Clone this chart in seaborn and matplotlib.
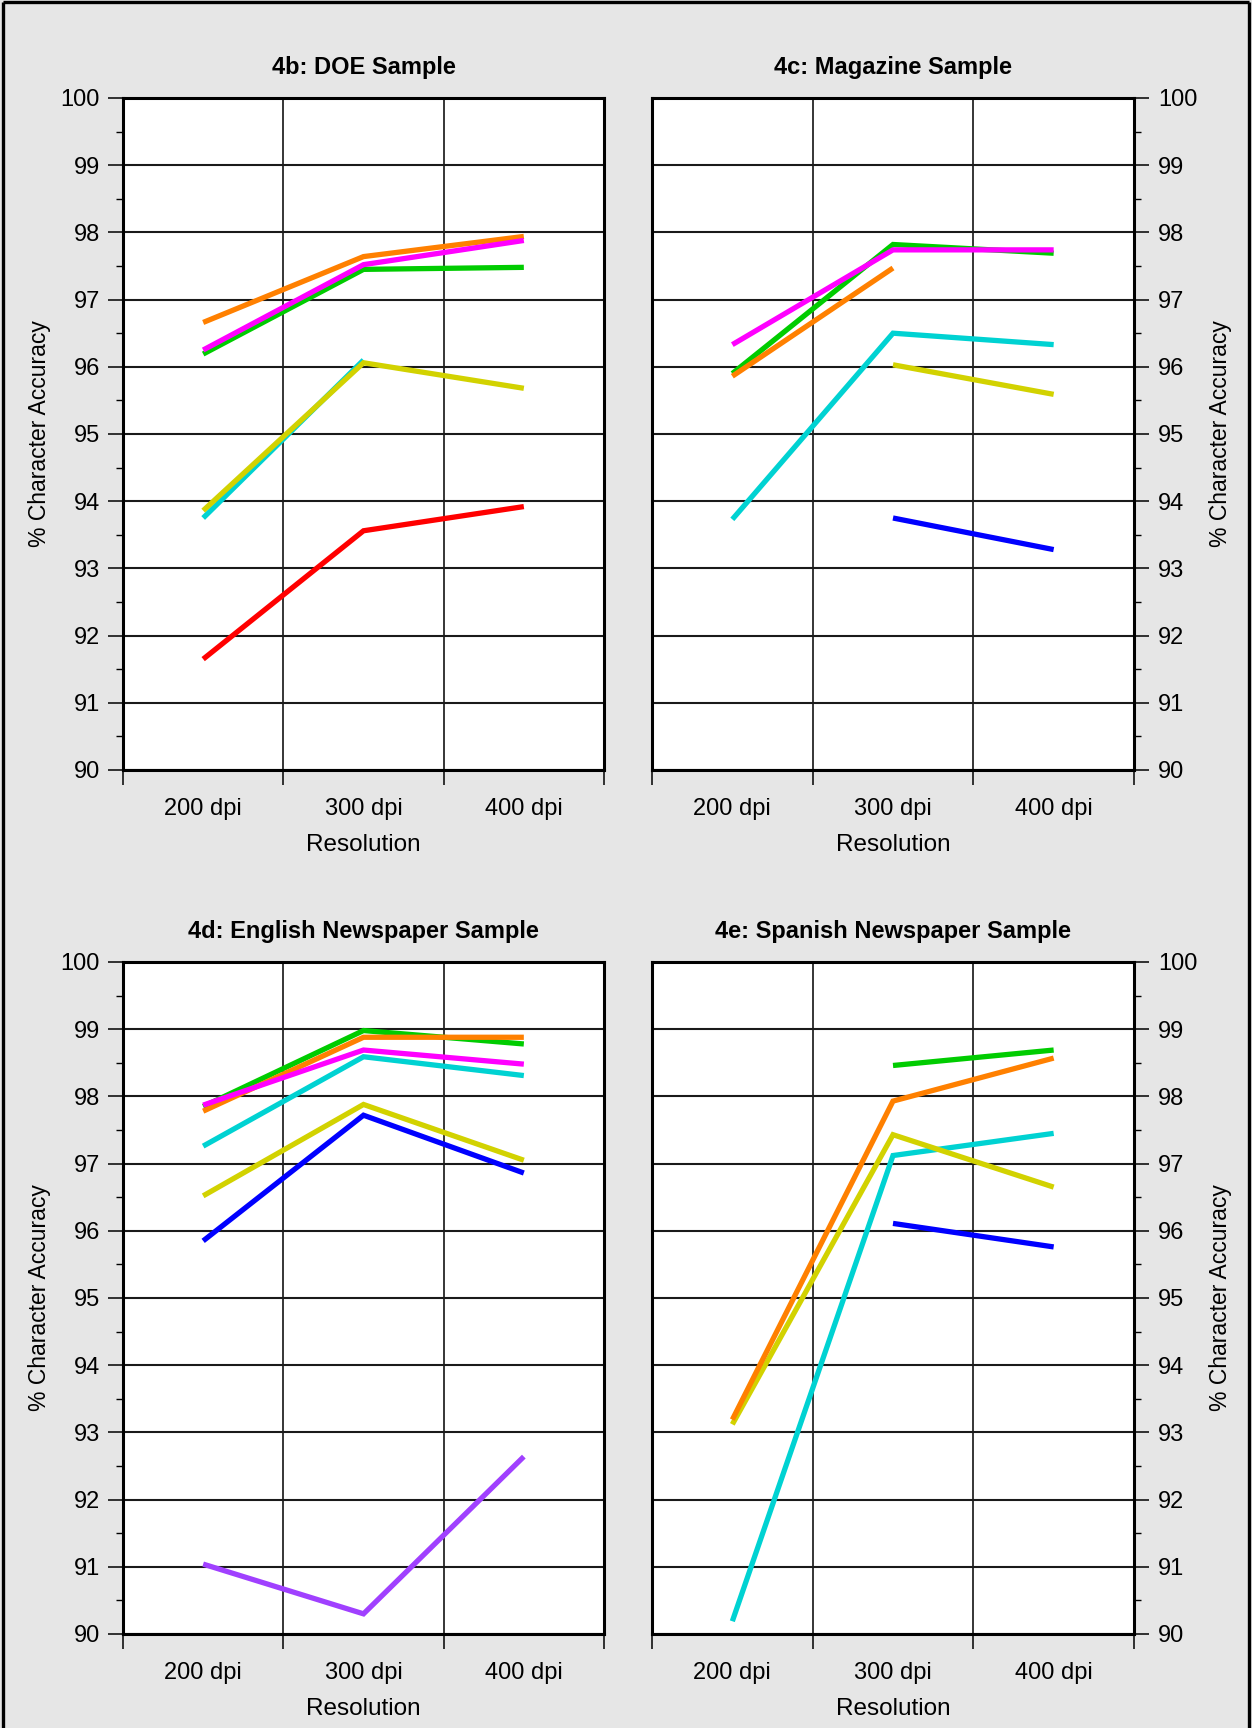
import numpy as np
import pandas as pd
import matplotlib
matplotlib.use("Agg")
import matplotlib.pyplot as plt
from matplotlib.ticker import FixedLocator, FixedFormatter, MultipleLocator, NullFormatter
from matplotlib.lines import Line2D
import seaborn as sns

# ---- data -------------------------------------------------------------
resolutions = [200, 300, 400]
resolution_labels = ["200 dpi", "300 dpi", "400 dpi"]
panel_titles = ["4b: DOE Sample", "4c: Magazine Sample",
                "4d: English Newspaper Sample", "4e: Spanish Newspaper Sample"]
nan = np.nan

# 4b: DOE sample
doe_red = [91.65, 93.56, 93.92]
doe_cyan = [93.75, 96.10, nan]
doe_yellow = [93.86, 96.06, 95.68]
doe_green = [96.19, 97.45, 97.48]
doe_orange = [96.66, 97.64, 97.94]
doe_magenta = [96.25, 97.52, 97.88]

# 4c: magazine sample
mag_blue = [nan, 93.75, 93.28]
mag_cyan = [93.73, 96.50, 96.33]
mag_yellow = [nan, 96.03, 95.59]
mag_green = [95.90, 97.82, 97.69]
mag_orange = [95.86, 97.47, nan]
mag_magenta = [96.33, 97.74, 97.74]

# 4d: English newspaper sample
eng_purple = [91.04, 90.30, 92.64]
eng_blue = [95.85, 97.72, 96.86]
eng_cyan = [97.26, 98.59, 98.31]
eng_yellow = [96.52, 97.88, 97.05]
eng_green = [97.85, 98.98, 98.78]
eng_orange = [97.78, 98.88, 98.88]
eng_magenta = [97.87, 98.69, 98.48]

# 4e: Spanish newspaper sample
spa_blue = [nan, 96.11, 95.76]
spa_cyan = [90.19, 97.12, 97.45]
spa_yellow = [93.12, 97.43, 96.65]
spa_green = [nan, 98.46, 98.69]
spa_orange = [93.19, 97.93, 98.57]

panels = [
    {"red": doe_red, "cyan": doe_cyan, "yellow": doe_yellow,
     "green": doe_green, "orange": doe_orange, "magenta": doe_magenta},
    {"blue": mag_blue, "cyan": mag_cyan, "yellow": mag_yellow,
     "green": mag_green, "orange": mag_orange, "magenta": mag_magenta},
    {"purple": eng_purple, "blue": eng_blue, "cyan": eng_cyan, "yellow": eng_yellow,
     "green": eng_green, "orange": eng_orange, "magenta": eng_magenta},
    {"blue": spa_blue, "cyan": spa_cyan, "yellow": spa_yellow,
     "green": spa_green, "orange": spa_orange},
]

# drawing order (later entries on top) and colours
draw_order = ["red", "purple", "blue", "cyan", "yellow", "green", "orange", "magenta"]
palette = {"red": "#FF0000", "purple": "#A040FF", "blue": "#0000FF", "cyan": "#00D2D2",
           "yellow": "#D2D200", "green": "#00CC00", "orange": "#FF8000", "magenta": "#FF00FF"}

# ---- style ------------------------------------------------------------
sns.set_theme(style="white")
plt.rcParams["font.family"] = ["Liberation Sans", "DejaVu Sans"]
plt.rcParams["lines.solid_capstyle"] = "butt"
plt.rcParams["lines.solid_joinstyle"] = "miter"

W, H = 1252, 1728
fig = plt.figure(figsize=(W / 100, H / 100), dpi=100)
fig.patch.set_facecolor("#E6E6E6")

# outer frame (open at the bottom)
for xs, ys in [([3 / W, 3 / W], [0, 1 - 2 / H]),
               ([3 / W, 1249 / W], [1 - 2 / H, 1 - 2 / H]),
               ([1249 / W, 1249 / W], [1 - 2 / H, 0])]:
    fig.add_artist(Line2D(xs, ys, color="black", lw=2.4, transform=fig.transFigure))

# axes boxes in pixels: (left, right, top, bottom)
boxes = [(123, 604, 98, 770), (652, 1134, 98, 770),
         (123, 604, 962, 1634), (652, 1134, 962, 1634)]

FS = 17
for i, (vals, (x0, x1, y0, y1)) in enumerate(zip(panels, boxes)):
    ax = fig.add_axes([x0 / W, 1 - y1 / H, (x1 - x0) / W, (y1 - y0) / H])
    ax.set_facecolor("white")

    rows = []
    for name in draw_order:
        if name in vals:
            for r, v in zip(resolutions, vals[name]):
                rows.append({"resolution": r, "accuracy": v, "series": name})
    df = pd.DataFrame(rows)
    order = [n for n in draw_order if n in vals]
    sns.lineplot(data=df, x="resolution", y="accuracy", hue="series",
                 hue_order=order, palette=palette, linewidth=3.8,
                 legend=False, sort=False, ax=ax, zorder=3)

    ax.set_xlim(150, 450)
    ax.set_ylim(90, 100)

    # x: boundary ticks (outward, unlabelled) + labels centred on categories
    ax.xaxis.set_major_locator(FixedLocator([150, 250, 350, 450]))
    ax.xaxis.set_major_formatter(NullFormatter())
    ax.xaxis.set_minor_locator(FixedLocator(resolutions))
    ax.xaxis.set_minor_formatter(FixedFormatter(resolution_labels))
    ax.tick_params(axis="x", which="major", direction="out", length=11, width=1.1,
                   color="black", bottom=True)
    ax.tick_params(axis="x", which="minor", length=0, pad=20, labelsize=FS,
                   labelcolor="black", bottom=True)

    # y: integer ticks with half-step minor ticks
    ax.yaxis.set_major_locator(MultipleLocator(1))
    ax.yaxis.set_minor_locator(MultipleLocator(0.5))
    right = (i % 2 == 1)
    if right:
        ax.yaxis.tick_right()
        ax.yaxis.set_label_position("right")
    ax.tick_params(axis="y", which="major", direction="out", length=10.5, width=1.1,
                   color="black", labelsize=FS, labelcolor="black",
                   pad=7 if right else 6, left=not right, right=right)
    ax.tick_params(axis="y", which="minor", direction="out", length=5, width=1.0,
                   color="black", left=not right, right=right)

    # grid
    ax.grid(False)
    ax.grid(axis="y", which="major", color="#1a1a1a", lw=1.5, zorder=1)
    ax.grid(axis="x", which="major", color="black", lw=1.1, zorder=1)
    ax.set_axisbelow(True)

    for sp in ax.spines.values():
        sp.set_visible(True)
        sp.set_color("black")
        sp.set_linewidth(2.2)
        sp.set_zorder(4)

    ax.set_title(panel_titles[i], fontsize=FS, fontweight="bold", pad=17.3,
                 color="black")
    ax.set_xlabel("Resolution", fontsize=17.5, color="black", va="center")
    ax.xaxis.set_label_coords(0.5, -75 / (y1 - y0))
    ax.set_ylabel("% Character Accuracy", fontsize=16.5, color="black",
                  va="center", rotation=90)
    if right:
        ax.yaxis.set_label_coords((1221 - x0) / (x1 - x0), 0.5)
    else:
        ax.yaxis.set_label_coords((40 - x0) / (x1 - x0), 0.5)

fig.savefig("out.png", dpi=100, facecolor=fig.get_facecolor())
